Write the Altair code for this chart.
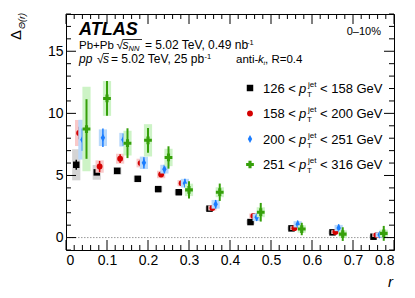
import altair as alt
import pandas as pd

# ---------------- data ----------------
r_bins = [0.025, 0.075, 0.125, 0.175, 0.225, 0.275, 0.35, 0.45, 0.55, 0.65, 0.75]
pt_lo = ["126", "158", "200", "251"]
pt_hi = ["158", "200", "251", "316"]
x_shift = [0.0, 0.007, 0.015, 0.025]

black_y = [5.86, 5.25, 5.37, 4.73, 3.90, 3.65, 2.33, 1.25, 0.74, 0.42, 0.07]
red_y = [8.42, 5.72, 6.35, 6.00, 5.08, 4.38, 2.38, 1.74, 0.76, 0.44, 0.20]
blue_y = [7.88, 8.04, 7.88, 6.02, 5.51, 4.38, 2.68, 1.63, 1.07, 0.77, 0.22]
green_y = [8.74, 11.20, 7.60, 7.83, 6.45, 3.84, 3.65, 2.04, 0.69, 0.28, 0.34]

black_stat = [0.40, 0.20, 0.12, 0.10, 0.08, 0.08, 0.06, 0.06, 0.05, 0.05, 0.05]
red_stat = [0.50, 0.45, 0.35, 0.30, 0.20, 0.20, 0.15, 0.15, 0.12, 0.12, 0.12]
blue_stat = [0.90, 0.75, 0.50, 0.45, 0.35, 0.35, 0.35, 0.30, 0.30, 0.30, 0.25]
green_stat = [2.40, 1.40, 1.20, 1.00, 0.90, 0.70, 0.70, 0.75, 0.50, 0.55, 0.60]

black_sys = [1.25, 0.60, 0.30, 0.25, 0.22, 0.20, 0.18, 0.18, 0.15, 0.15, 0.12]
red_sys = [1.05, 0.50, 0.40, 0.35, 0.30, 0.25, 0.20, 0.20, 0.15, 0.15, 0.15]
blue_sys = [1.60, 0.67, 0.55, 0.50, 0.35, 0.35, 0.35, 0.30, 0.25, 0.25, 0.20]
green_sys = [3.40, 1.40, 1.00, 1.30, 0.70, 0.50, 0.40, 0.40, 0.30, 0.30, 0.30]

x_major = [0.0, 0.1, 0.2, 0.3, 0.4, 0.5, 0.6, 0.7, 0.8]
y_major = [0, 5, 10, 15]

# ---------------- style ----------------
FONT = "Liberation Sans"
W, H = 328, 236
BOX_HALF = 0.01
marker_col = ["#000000", "#d40000", "#1a7cff", "#36a00a"]
box_col = ["#d4d4d4", "#f9c9c9", "#b9d9fb", "#cdf3c6"]
shapes = ["square", "circle", "M0,-1L0.55,0L0,1L-0.55,0Z", "cross"]
msizes = [42, 34, 64, 60]
err_w = [1.5, 1.5, 1.5, 2.0]

xs = alt.Scale(domain=[0, 0.8], nice=False, zero=False)
ys = alt.Scale(domain=[-1, 18], nice=False, zero=False)

AX = alt.Axis(values=x_major, ticks=False, tickSize=0, domain=False, grid=False, title=None,
              labelExpr="datum.value == 0 ? '0' : format(datum.value, '.1f')",
              labelFontSize=14, labelFont=FONT, labelColor="black", labelPadding=3)
AY = alt.Axis(values=y_major, ticks=False, tickSize=0, domain=False, grid=False, title=None,
              labelFontSize=14, labelFont=FONT, labelColor="black", labelPadding=3)


def X(f):
    return alt.X(f, scale=xs, axis=AX)


def Y(f):
    return alt.Y(f, scale=ys, axis=AY)


ys_all = [black_y, red_y, blue_y, green_y]
stats = [black_stat, red_stat, blue_stat, green_stat]
syss = [black_sys, red_sys, blue_sys, green_sys]

layers = []

# zero line
layers.append(
    alt.Chart(pd.DataFrame({"z": [0.0]})).mark_rule(color="#9a9a9a", strokeDash=[1.5, 1.5], strokeWidth=1).encode(
        y=Y("z:Q"), x=alt.value(0), x2=alt.value(W))
)

# series (box, stat error, marker per series, like ROOT draw order)
for i in range(4):
    rr = [r + x_shift[i] for r in r_bins]
    df = pd.DataFrame({
        "r": rr,
        "y": ys_all[i],
        "rlo": [r - BOX_HALF for r in rr],
        "rhi": [r + BOX_HALF for r in rr],
        "slo": [v - s for v, s in zip(ys_all[i], syss[i])],
        "shi": [v + s for v, s in zip(ys_all[i], syss[i])],
        "elo": [v - s for v, s in zip(ys_all[i], stats[i])],
        "ehi": [v + s for v, s in zip(ys_all[i], stats[i])],
    })
    base = alt.Chart(df)
    layers.append(base.mark_rect(color=box_col[i], opacity=1).encode(
        x=X("rlo:Q"), x2="rhi:Q", y=Y("slo:Q"), y2="shi:Q"))
    layers.append(base.mark_rule(color=marker_col[i], strokeWidth=err_w[i]).encode(
        x=X("r:Q"), y=Y("elo:Q"), y2="ehi:Q"))
    layers.append(base.mark_point(shape=shapes[i], filled=True, color=marker_col[i],
                                  size=msizes[i], opacity=1, strokeWidth=0).encode(
        x=X("r:Q"), y=Y("y:Q")))

# ---------------- ticks (inward, ROOT style) ----------------
x_minor = [round(k * 0.02, 2) for k in range(0, 41) if k % 5 != 0]
y_minor = [k for k in range(-1, 19) if k % 5 != 0]


def xticks(vals, length):
    d = pd.DataFrame({"v": vals})
    b = alt.Chart(d).mark_rule(color="black", strokeWidth=1)
    return [
        b.encode(x=X("v:Q"), y=alt.value(H), y2=alt.value(H - length)),
        b.encode(x=X("v:Q"), y=alt.value(0), y2=alt.value(length)),
    ]


def yticks(vals, length):
    d = pd.DataFrame({"v": vals})
    b = alt.Chart(d).mark_rule(color="black", strokeWidth=1)
    return [
        b.encode(y=Y("v:Q"), x=alt.value(0), x2=alt.value(length)),
        b.encode(y=Y("v:Q"), x=alt.value(W), x2=alt.value(W - length)),
    ]


layers += xticks(x_major, 10) + xticks(x_minor, 5) + yticks(y_major, 10) + yticks(y_minor, 5)

# ---------------- text helpers ----------------
one = pd.DataFrame({"a": [0]})


def txt(s, x, y, size=12, style="normal", weight="normal", align="left", angle=0):
    return alt.Chart(one).mark_text(
        text=s, align=align, baseline="alphabetic", fontSize=size, fontStyle=style,
        fontWeight=weight, font=FONT, angle=angle, color="black"
    ).encode(x=alt.value(x), y=alt.value(y))


def hline(x1, x2, y):
    return alt.Chart(one).mark_rule(color="black", strokeWidth=0.8).encode(
        x=alt.value(x1), x2=alt.value(x2), y=alt.value(y))


# ATLAS label & info
layers.append(txt("ATLAS", 13, 21, size=18, style="italic", weight="bold"))
layers.append(txt("0\u201310%", 315, 21, size=11, align="right"))

# line 1
L1 = 35
layers.append(txt("Pb+Pb", 13, L1, size=11.5))
layers.append(txt("\u221a", 50.5, L1))
layers.append(hline(56.5, 76, L1 - 9.5))
layers.append(txt("s", 56.5, L1, style="italic"))
layers.append(txt("NN", 62.5, L1 + 2, size=7.5, style="italic"))
layers.append(txt("= 5.02 TeV, 0.49 nb", 79, L1))
layers.append(txt("-1", 181, L1 - 4.5, size=7.5))

# line 2
L2 = 49
layers.append(txt("pp", 13, L2, style="italic"))
layers.append(txt("\u221a", 31, L2))
layers.append(hline(37, 43, L2 - 9.5))
layers.append(txt("s", 37, L2, style="italic"))
layers.append(txt("= 5.02 TeV, 25 pb", 45, L2))
layers.append(txt("-1", 138.5, L2 - 4.5, size=7.5))
layers.append(txt("anti-", 170, L2, size=11.5))
layers.append(txt("k", 192, L2, size=11.5, style="italic"))
layers.append(txt("t", 197.5, L2 + 2, size=6, style="italic"))
layers.append(txt(", R=0.4", 199, L2, size=11.5))

# legend
leg_y = [74, 99.5, 125, 150.5]
for i in range(4):
    cy = leg_y[i]
    layers.append(
        alt.Chart(one).mark_point(
            shape=shapes[i], filled=True, color=marker_col[i], size=msizes[i], opacity=1, strokeWidth=0
        ).encode(x=alt.value(184), y=alt.value(cy))
    )
    bl = cy + 4.5
    layers.append(txt(pt_lo[i] + " <", 197, bl, size=13))
    layers.append(txt("p", 233, bl, size=13, style="italic"))
    layers.append(txt("jet", 242, bl - 6, size=8))
    layers.append(txt("T", 241, bl + 4, size=8))
    layers.append(txt("< " + pt_hi[i] + " GeV", 254, bl, size=13))

# axis titles
layers.append(txt("\u0394", -45, 21, size=15, angle=270, align="center"))
layers.append(txt("\u0398(r)", -41, 7, size=9, style="italic", angle=270, align="center"))
layers.append(txt("r", 327, 273, size=15, style="italic", align="right"))

chart = alt.layer(*layers).properties(
    width=W, height=H,
    autosize=alt.AutoSizeParams(type="none"),
    padding={"left": 58, "top": 6, "right": 13, "bottom": 40},
    background="white",
).configure_view(stroke="black", strokeWidth=1)

chart.save("out.html", embed_options={"renderer": "svg", "actions": False})
